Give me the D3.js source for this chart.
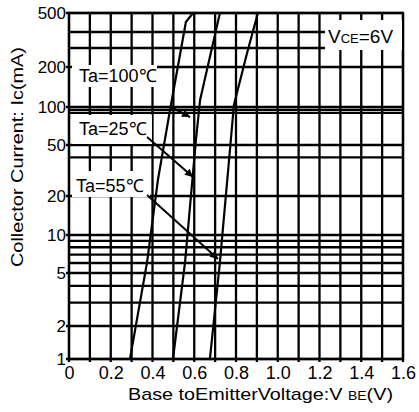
<!DOCTYPE html>
<html><head><meta charset="utf-8">
<script src="https://cdn.jsdelivr.net/npm/d3@7"></script>
<style>
body{margin:0;background:#fff}
svg{display:block}
text{font-family:"Liberation Sans",Arial,Helvetica,sans-serif;fill:#000}
</style>
</head><body>
<svg id="chart" width="419" height="412"></svg>
<script>
// ---------- data ----------
const xTickValues = [0, 0.2, 0.4, 0.6, 0.8, 1.0, 1.2, 1.4, 1.6];
const xTickLabels = ["0", "0.2", "0.4", "0.6", "0.8", "1.0", "1.2", "1.4", "1.6"];
const xGridValues = [0, 0.1, 0.2, 0.3, 0.4, 0.5, 0.6, 0.7, 0.8, 0.9, 1.0, 1.1, 1.2, 1.3, 1.4, 1.5, 1.6];
const yTickValues = [1, 2, 5, 10, 20, 50, 100, 200, 500];
const yTickLabels = ["1", "2", "5", "10", "20", "50", "100", "200", "500"];
const yGridValues = [1, 2, 3, 4, 5, 6, 7, 8, 9, 10, 20, 40, 50, 90, 95, 100, 200, 300, 400, 500];

const seriesNames = ["Ta=100℃", "Ta=25℃", "Ta=55℃"];
const vbeTa100 = [0.292, 0.374, 0.426, 0.484, 0.560, 0.594];
const icTa100  = [1, 6.1, 26.7, 94.7, 450, 500];
const vbeMid   = [0.498, 0.556, 0.608, 0.628, 0.723];
const icMid    = [1, 6.1, 54.8, 113, 500];
const vbeRight = [0.675, 0.723, 0.771, 0.790, 0.853, 0.905];
const icRight  = [1, 6.1, 45.7, 103.5, 270, 500];

// arrow start / tip in data units (V, mA)
const arrowStartV = [0.489, 0.374, 0.374];
const arrowStartI = [100, 57.8, 20.4];
const arrowTipV   = [0.580, 0.594, 0.714];
const arrowTipI   = [83.3, 28.1, 6.45];

// ---------- layout ----------
const svg = d3.select("#chart");
const L = 69, R = 403, T = 13, B = 359;
const x = d3.scaleLinear().domain([0, 1.6]).range([L, R]);
// the printed grid is slightly irregular; anchor the log scale on its printed decades
const yAnchorVals = [1, 2, 5, 10, 20, 50, 100, 200, 300, 400, 500];
const yAnchorPix  = [B, 326, 273, 235, 196, 145, 107, 67, 48, 32, T];
const y = d3.scaleLog().domain(yAnchorVals).range(yAnchorPix);

const LW = 2.3;

// grid
const grid = svg.append("g").attr("stroke", "#000").attr("stroke-width", LW);
grid.selectAll("line.v").data(xGridValues).join("line").attr("class", "v")
  .attr("x1", d => x(d)).attr("x2", d => x(d)).attr("y1", T).attr("y2", B + 3);
grid.selectAll("line.h").data(yGridValues).join("line").attr("class", "h")
  .attr("x1", d => yTickValues.includes(d) ? L - 3 : L).attr("x2", R)
  .attr("y1", d => y(d)).attr("y2", d => y(d));
grid.append("rect").attr("x", L).attr("y", T).attr("width", R - L).attr("height", B - T)
  .attr("fill", "none");

// axes labels via d3 axes (domain/ticks hidden, grid drawn above)
const xAxis = d3.axisBottom(x).tickValues(xTickValues)
  .tickFormat((d, i) => xTickLabels[i]).tickSize(0).tickPadding(7);
const gx = svg.append("g").attr("transform", `translate(0,${B})`).call(xAxis);
gx.select(".domain").remove();
gx.selectAll("text").attr("font-size", 18).attr("font-family", null);

const yAxis = d3.axisLeft(y).tickValues(yTickValues)
  .tickFormat((d, i) => yTickLabels[i]).tickSize(0).tickPadding(3);
const gy = svg.append("g").attr("transform", `translate(${L},0)`).call(yAxis);
gy.select(".domain").remove();
gy.selectAll("text").attr("font-size", 17).attr("font-family", null);

// curves
const line = d3.line().x(d => x(d[0])).y(d => y(d[1]));
const curves = [
  d3.zip(vbeTa100, icTa100),
  d3.zip(vbeMid, icMid),
  d3.zip(vbeRight, icRight)
];
svg.append("g").selectAll("path").data(curves).join("path")
  .attr("d", line).attr("fill", "none").attr("stroke", "#000").attr("stroke-width", 2.2);

// label boxes
const boxes = [
  {x: 72, y: 65, w: 85, h: 22, tx: 79, ty: 82},
  {x: 72, y: 115, w: 80, h: 29, tx: 79, ty: 135},
  {x: 72, y: 171, w: 78, h: 26, tx: 76, ty: 192}
];
const lab = svg.append("g");
boxes.forEach((b, i) => {
  lab.append("rect").attr("x", b.x).attr("y", b.y).attr("width", b.w).attr("height", b.h).attr("fill", "#fff");
  lab.append("text").attr("x", b.tx).attr("y", b.ty).attr("font-size", 18).text(seriesNames[i]);
});

// arrows
svg.append("defs").append("marker").attr("id", "ah").attr("viewBox", "0 0 10 10")
  .attr("refX", 10).attr("refY", 5).attr("markerWidth", 11).attr("markerHeight", 8)
  .attr("markerUnits", "userSpaceOnUse").attr("orient", "auto")
  .append("path").attr("d", "M0,0 L10,5 L0,10 z").attr("fill", "#000");
svg.append("g").selectAll("line").data(seriesNames).join("line")
  .attr("x1", (d, i) => x(arrowStartV[i])).attr("y1", (d, i) => y(arrowStartI[i]))
  .attr("x2", (d, i) => x(arrowTipV[i])).attr("y2", (d, i) => y(arrowTipI[i]))
  .attr("stroke", "#000").attr("stroke-width", 2).attr("marker-end", "url(#ah)");

// VCE box
svg.append("rect").attr("x", 325).attr("y", 20).attr("width", 77).attr("height", 30).attr("fill", "#fff");
const vce = svg.append("text").attr("x", 328).attr("y", 43).attr("font-size", 19);
vce.append("tspan").text("V");
vce.append("tspan").attr("font-size", 13).text("CE");
vce.append("tspan").text("=6V");

// axis titles
const xt = svg.append("text").attr("x", 128).attr("y", 400).attr("font-size", 17)
  .attr("textLength", 265).attr("lengthAdjust", "spacingAndGlyphs");
xt.append("tspan").text("Base toEmitterVoltage:V ");
xt.append("tspan").attr("font-size", 12).text("BE");
xt.append("tspan").text("(V)");

svg.append("text").attr("transform", "translate(23,157) rotate(-90)")
  .attr("text-anchor", "middle").attr("font-size", 17)
  .attr("textLength", 220).attr("lengthAdjust", "spacingAndGlyphs")
  .text("Collector Current: Ic(mA)");
</script>
</body></html>
